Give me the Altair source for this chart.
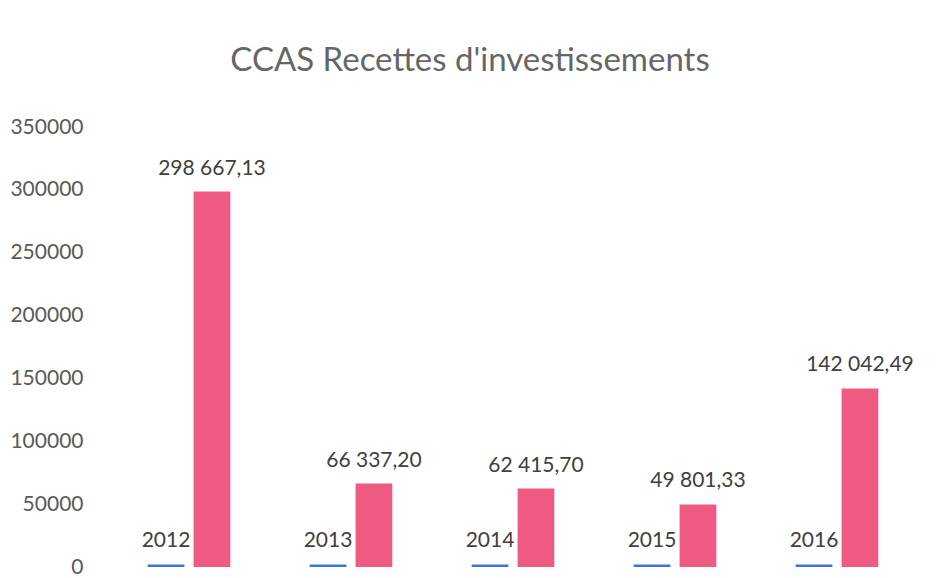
import altair as alt
import pandas as pd

years = ["2012", "2013", "2014", "2015", "2016"]
year_values = [2012, 2013, 2014, 2015, 2016]
amounts = [298667.13, 66337.20, 62415.70, 49801.33, 142042.49]
amount_labels = ["298 667,13", "66 337,20", "62 415,70", "49 801,33", "142 042,49"]
series = ["Année", "Montant"]
y_ticks = [0, 50000, 100000, 150000, 200000, 250000, 300000, 350000]

rows = []
for i, y in enumerate(years):
    rows.append({"cat": y, "serie": series[0], "val": year_values[i], "lab": years[i]})
    rows.append({"cat": y, "serie": series[1], "val": amounts[i], "lab": amount_labels[i]})
df = pd.DataFrame(rows)

FONT = "Lato"

base = alt.Chart(df).encode(
    x=alt.X("cat:N", axis=None, sort=years,
            scale=alt.Scale(paddingInner=0.49, paddingOuter=0.245)),
    xOffset=alt.XOffset("serie:N", sort=series, scale=alt.Scale(paddingInner=0.2, paddingOuter=0)),
    y=alt.Y("val:Q", title=None,
            scale=alt.Scale(domain=[0, 350000], nice=False),
            axis=alt.Axis(values=y_ticks, format="d", grid=False, domain=False, ticks=False,
                          labelPadding=25, labelFontSize=21, labelColor="#595959",
                          labelFont=FONT)),
)

bars = base.mark_bar().encode(
    color=alt.Color("serie:N", legend=None,
                    scale=alt.Scale(domain=series, range=["#3A73E0", "#EF5A83"]))
)

texts = base.mark_text(baseline="bottom", dy=-13, fontSize=21, font=FONT, color="#404040").encode(
    text="lab:N"
)

chart = (bars + texts).properties(
    width=810,
    height=440,
    autosize=alt.AutoSizeParams(type="none"),
    padding={"left": 100, "top": 119, "right": 15, "bottom": 11},
    title=alt.TitleParams("CCAS Recettes d'investissements", fontSize=33, font=FONT,
                          fontWeight="normal", color="#666666", offset=38, dx=-43,
                          anchor="middle"),
).configure_view(stroke=None)

chart.save("out.html", embed_options={"renderer": "svg", "actions": False})
